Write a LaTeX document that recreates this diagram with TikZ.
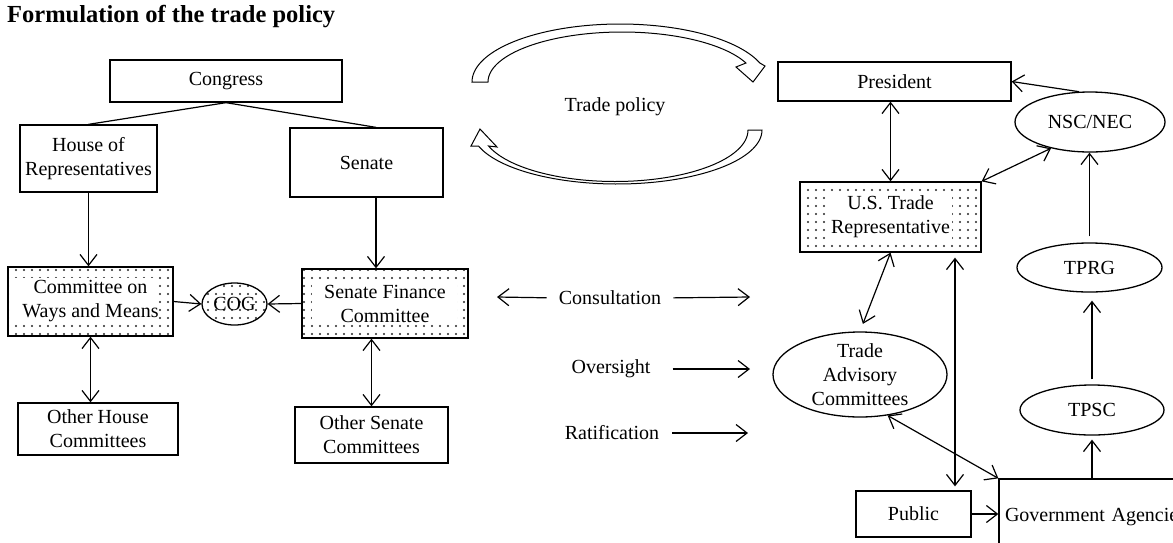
\documentclass[tikz,border=0pt]{standalone}
\usepackage{fontspec}
\setmainfont{Liberation Serif}
\usetikzlibrary{arrows.meta,shapes.geometric,patterns.meta,calc}
\tikzdeclarepattern{
  name=sparsedots,
  type=uncolored,
  bounding box={(-4pt,-4pt) and (4pt,4pt)},
  tile size={(8pt,8pt)},
  code={\pgfpathcircle{\pgfpointorigin}{1.15pt}\pgfusepath{fill}}
}
\tikzset{
  box/.style={draw, line width=1.3pt, align=center, inner sep=0pt},
  oval/.style={ellipse, draw, line width=1.3pt, align=center, inner sep=0pt},
  dotbox/.style n args={4}{draw, line width=1.3pt, align=center, inner sep=0pt,
    path picture={
      \fill[pattern=sparsedots, pattern color=black!85] (path picture bounding box.south west) rectangle (path picture bounding box.north east);
      \fill[white] ([shift={(#1pt,-#2pt)}]path picture bounding box.north west) rectangle ([shift={(-#3pt,#4pt)}]path picture bounding box.south east);
    }},
  plain/.style={inner sep=0pt, align=center},
  tip/.tip={Straight Barb[length=11pt,width=17pt]},
  arr/.style={line width=1.2pt, -tip},
  darr/.style={line width=1.2pt, tip-tip},
  bigarrow/.style={draw, line width=1pt, fill=white, line join=miter}
}
\begin{document}
\begin{tikzpicture}[x=1pt,y=-1pt,font=\fontsize{20}{24}\selectfont]
\clip (0,0) rectangle (1173,542);
\fill[white] (0,0) rectangle (1173,542);

\node[anchor=base west, inner sep=0pt, font=\fontsize{24.5}{28}\selectfont\bfseries] (title) at (7,22) {Formulation of the trade policy};

% Congress side
\node[box, minimum width=232pt, minimum height=42pt] (congress) at (226,81) {Congress};
\node[box, minimum width=137pt, minimum height=67pt] (house) at (88.5,158.5) {House of\\Representatives};
\node[box, minimum width=153pt, minimum height=69pt] (senate) at (366.5,162.5) {Senate};
\node[dotbox={4}{11}{16}{14}, minimum width=165pt, minimum height=69pt] (wm) at (90.5,301.5) {Committee on\\Ways and Means};
\node[oval, minimum width=65pt, minimum height=42pt, pattern=sparsedots, pattern color=black!85] (cog) at (234.5,304) {COG};
\node[dotbox={10}{13}{11}{16}, minimum width=166pt, minimum height=69pt] (sfc) at (385,303.5) {Senate Finance\\Committee};
\node[box, minimum width=160pt, minimum height=52pt] (ohc) at (98,429) {Other House\\Committees};
\node[box, minimum width=153pt, minimum height=56pt] (osc) at (371.5,435) {Other Senate\\Committees};

% executive side
\node[box, minimum width=233pt, minimum height=39pt] (pres) at (894.5,81.5) {President};
\node[dotbox={30}{11}{29}{10}, minimum width=181pt, minimum height=70pt] (ustr) at (890.5,217) {U.S. Trade\\Representative};
\node[oval, minimum width=150pt, minimum height=60pt] (nsc) at (1090,122) {NSC/NEC};
\node[oval, minimum width=145pt, minimum height=49pt] (tprg) at (1089.5,267.5) {TPRG};
\node[oval, minimum width=144pt, minimum height=50pt] (tpsc) at (1092,410) {TPSC};
\node[oval, minimum width=174pt, minimum height=85pt, label={[plain, name=tactext]center:Trade\\Advisory\\Committees}] (tac) at (860,374.5) {};
\node[box, minimum width=115pt, minimum height=46pt] (public) at (913.5,514) {Public};
\node[draw, line width=1.3pt, align=left, inner xsep=6pt, inner ysep=0pt, text width=190pt, minimum height=76pt] (gov) at (1100,517) {Government Agencies};

% middle texts
\node[plain] (tp) at (615,107) {Trade policy};
\node[plain] (cons) at (610,298) {Consultation};
\node[plain] (ovs) at (611,369) {Oversight};
\node[plain] (rat) at (612,433) {Ratification};
\coordinate (cl) at (497,297);
\coordinate (cr) at (750,297);
\coordinate (or) at (750,369);
\coordinate (rr) at (748,433);
\coordinate (vx) at (955,0);

% curved block arrows
\path[bigarrow] plot[domain=180:19.12, samples=80] ({620+148*cos(\x)},{82-58*sin(\x)})
  -- (765,66) -- (753,82) -- (736,67)
  -- plot[domain=22.33:180, samples=80] ({622+134*cos(\x)},{82-50*sin(\x)}) -- cycle;
\path[bigarrow] plot[domain=0:162.76, samples=80] ({617+145*cos(\x)},{130+54*sin(\x)})
  -- (471,146) -- (480,129) -- (497,147)
  -- plot[domain=161.9:0, samples=80] ({615+133*cos(\x)},{130+51.5*sin(\x)}) -- cycle;

% connectors, congress
\draw[line width=1.2pt] (congress.south) -- (house.north);
\draw[line width=1.2pt] (congress.south) -- ([xshift=9.5pt]senate.north);
\draw[arr] (house.south) -- (house.south |- wm.north);
\draw[arr] ([xshift=9.5pt]senate.south) -- ([xshift=9.5pt]senate.south |- sfc.north);
\draw[arr] (wm.east) -- (cog.west);
\draw[arr] (sfc.west) -- (cog.east);
\draw[darr] (wm.south) -- (wm.south |- ohc.north);
\draw[darr] (osc.north |- sfc.south) -- (osc.north);

% connectors, middle
\draw[arr, shorten <=12pt] (cons.west) -- (cl);
\draw[arr, shorten <=12pt] (cons.east) -- (cr);
\draw[arr, shorten <=22pt] (ovs.east) -- (or);
\draw[arr, shorten <=13pt] (rat.east) -- (rr);

% connectors, executive
\draw[darr] (pres.south -| ustr.north) -- (ustr.north);
\draw[arr] (nsc.110) -- (pres.east);
\draw[darr] (nsc.214) -- (ustr.north east);
\draw[arr, shorten <=6pt] (tprg.north) -- (tprg.north |- nsc.south);
\draw[arr, shorten <=5pt, shorten >=8pt] (tpsc.north) -- (tpsc.north |- tprg.south);
\draw[arr, shorten >=4pt] (tpsc.south |- gov.north) -- (tpsc.south);
\draw[arr] (public.east) -- (public.east -| gov.west);
\draw[darr, shorten <=5pt, shorten >=4pt] (vx |- ustr.south) -- (vx |- public.north);
\draw[darr, shorten >=8pt] (ustr.south) -- (tac.north);
\draw[darr] (tac.304) -- (gov.north west);
\end{tikzpicture}
\end{document}
